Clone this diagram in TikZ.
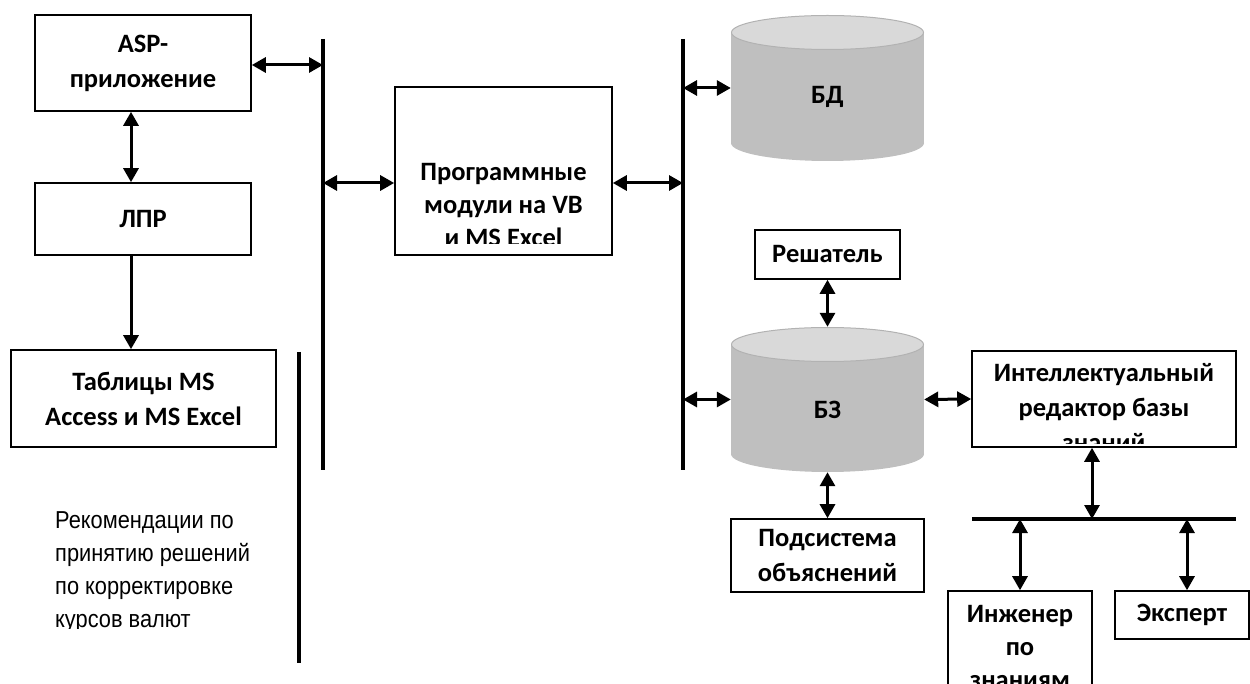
\documentclass[tikz,border=0pt]{standalone}
\usepackage{fontspec}
\setmainfont{Carlito}
\newfontfamily\arialfont[FakeStretch=0.89]{Liberation Sans}
\usetikzlibrary{arrows.meta}
\definecolor{cylbody}{HTML}{BFBFBF}
\definecolor{cyltop}{HTML}{D9D9D9}
\definecolor{cyledge}{HTML}{B2B2B2}

\begin{document}
\begin{tikzpicture}[x=1pt, y=-1pt,
    box/.style={draw, line width=1.6pt, inner sep=0pt, align=center,
      font=\bfseries\fontsize{26.5}{35}\selectfont},
    lbl/.style={inner sep=0pt, align=center, font=\bfseries\fontsize{26.5}{35}\selectfont},
    bus/.style={line width=3.4pt},
    link/.style={line width=3pt, {Triangle[length=14pt,width=15pt]}-{Triangle[length=14pt,width=15pt]}},
    onelink/.style={line width=3pt, -{Triangle[length=14pt,width=15pt]}},
    cyl/.style={inner sep=0pt, minimum width=193pt, path picture={
      \fill[cylbody] ([yshift=-17.5pt]path picture bounding box.north west)
        rectangle ([yshift=18pt]path picture bounding box.south east);
      \fill[cylbody] ([yshift=18pt]path picture bounding box.south)
        ellipse [x radius=96.5pt, y radius=18pt];
      \filldraw[fill=cyltop, draw=cyledge, line width=1pt]
        ([yshift=-17.5pt]path picture bounding box.north)
        ellipse [x radius=96pt, y radius=17pt];}}]
  \clip (0,0) rectangle (1250,684);

  % left column
  \node[box, minimum width=216pt, minimum height=96pt] (asp) at (143,63) {ASP-\\приложение};
  \node[box, minimum width=216pt, minimum height=72pt] (lpr) at (143,219) {ЛПР};
  \node[box, minimum width=265pt, minimum height=97pt] (tab) at (143.5,398.5) {Таблицы MS\\Access и MS Excel};

  % program modules, text cut by the box
  \node[box, minimum width=217pt, minimum height=168pt] (prog) at (503.5,171) {};
  \begin{scope}
    \clip (395,87) rectangle (612,244);
    \node[lbl, anchor=north, font=\bfseries\fontsize{26.5}{33}\selectfont] (progtxt) at (503.5,163)
      {Программные\\модули на VB\\и MS Excel};
  \end{scope}

  % buses
  \coordinate (busAtop) at (323,39);  \coordinate (busAbot) at (323,470);
  \coordinate (busBtop) at (683,39);  \coordinate (busBbot) at (683,470);
  \coordinate (busCtop) at (299,352); \coordinate (busCbot) at (299,663);
  \coordinate (busDl) at (972,519);   \coordinate (busDr) at (1236,519);
  \draw[bus] (busAtop) -- (busAbot);
  \draw[bus] (busBtop) -- (busBbot);
  \draw[bus] (busCtop) -- (busCbot);
  \draw[bus, line width=3.6pt] (busDl) -- (busDr);

  % data and knowledge bases
  \node[cyl, minimum height=146pt] (db) at (827.5,88) {};
  \node[lbl, yshift=-9pt] (dbtxt) at (db) {БД};
  \node[cyl, minimum height=145pt] (kb) at (827.5,399.5) {};
  \node[lbl, yshift=-10pt] (kbtxt) at (kb) {БЗ};

  \node[box, minimum width=145pt, minimum height=49pt] (solver) at (827.5,254.5) {Решатель};
  \node[box, minimum width=193pt, minimum height=73pt] (expl) at (827.5,555.5) {Подсистема\\объяснений};

  \node[box, minimum width=264pt, minimum height=96pt] (edit) at (1104,399) {};
  \begin{scope}
    \clip (972,351) rectangle (1236,443);
    \node[lbl, anchor=north] (edittxt) at (1104,363) {Интеллектуальный\\редактор базы\\знаний};
  \end{scope}

  \node[box, minimum width=144pt, minimum height=130pt] (eng) at (1020,656) {};
  \node[lbl, anchor=north, font=\bfseries\fontsize{26.5}{33}\selectfont] (engtxt) at (1020,605)
    {Инженер\\по\\знаниям};
  \node[box, minimum width=134pt, minimum height=48pt] (expert) at (1182,615) {Эксперт};

  % connectors
  \draw[link] (asp.east |- 0,65) -- (busAtop |- 0,65);
  \draw[link] ([xshift=-12pt]asp.south) -- ([xshift=-12pt]lpr.north);
  \draw[onelink] ([xshift=-12pt]lpr.south) -- ([xshift=-12.5pt]tab.north);
  \draw[link] (busAtop |- 0,183) -- (prog.west |- 0,183);
  \draw[link] (prog.east |- 0,183) -- (busBtop |- 0,183);
  \draw[link] (busBtop |- db.west) -- (db.west);
  \draw[link] (busBtop |- kb.west) -- (kb.west);
  \draw[link] (kb.east) -- (edit.west);
  \draw[link] (solver.south) -- (kb.north);
  \draw[link] (kb.south) -- (expl.north);
  \draw[link] ([xshift=-12pt]edit.south) -- ([xshift=-12pt]edit.south |- busDl);
  \draw[link] (eng.north |- busDl) -- (eng.north);
  \draw[link] ([xshift=5pt]expert.north |- busDl) -- ([xshift=5pt]expert.north);

  % recommendations text, cut at the bottom
  \begin{scope}
    \clip (40,490) rectangle (290,628);
    \node[inner sep=0pt, anchor=north west, align=left,
      font=\arialfont\fontsize{24.5}{33}\selectfont] (recom) at (55,511)
      {Рекомендации по\\принятию решений\\по корректировке\\курсов валют};
  \end{scope}
\end{tikzpicture}
\end{document}
